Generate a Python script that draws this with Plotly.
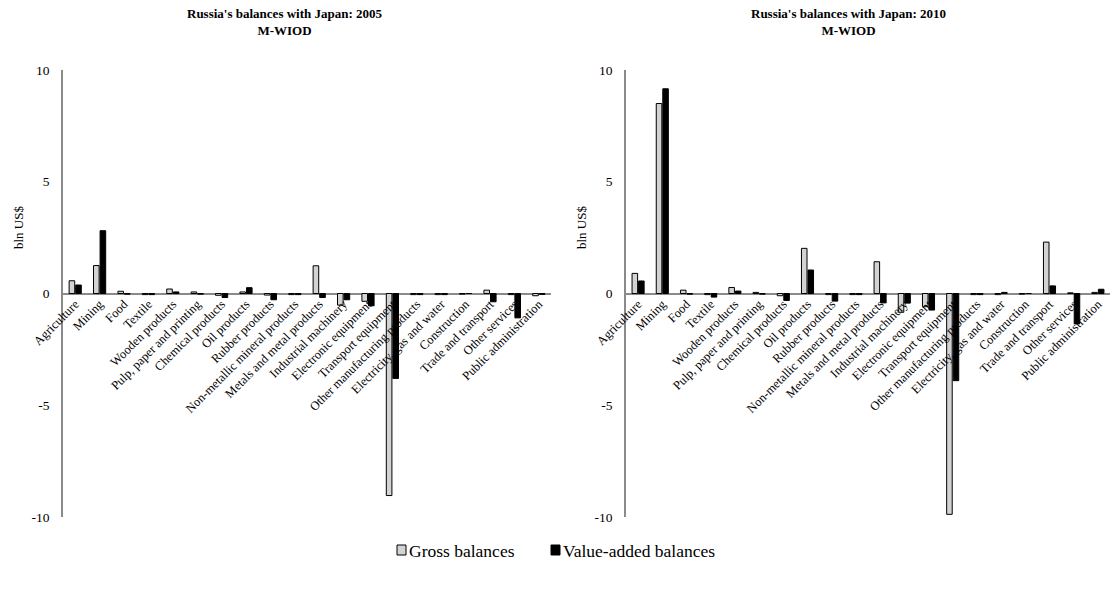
import plotly.graph_objects as go

# Sectors (same order in both years)
sectors = [
    "Agriculture", "Mining", "Food", "Textile", "Wooden products",
    "Pulp, paper and printing", "Chemical products", "Oil products",
    "Rubber products", "Non-metallic mineral products",
    "Metals and metal products", "Industrial machinery",
    "Electronic equipment", "Transport equipment",
    "Other manufacturing products", "Electricity, gas and water",
    "Construction", "Trade and transport", "Other services",
    "Public administration",
]

# Russia's balances with Japan, bln US$
gross_2005 = [0.57, 1.25, 0.10, -0.05, 0.20, 0.07, -0.08, 0.07, -0.07, -0.05,
              1.24, -0.52, -0.35, -9.04, -0.05, -0.05, -0.03, 0.15, -0.05, -0.10]
va_2005 = [0.38, 2.81, -0.03, -0.05, 0.07, -0.03, -0.18, 0.26, -0.28, -0.05,
           -0.18, -0.28, -0.55, -3.80, -0.05, -0.05, 0.00, -0.37, -1.09, -0.04]

gross_2010 = [0.90, 8.50, 0.15, -0.05, 0.27, 0.05, -0.10, 2.02, -0.05, -0.05,
              1.42, -0.84, -0.59, -9.88, -0.05, -0.05, -0.03, 2.30, 0.03, 0.05]
va_2010 = [0.56, 9.16, -0.03, -0.16, 0.11, -0.03, -0.31, 1.05, -0.34, -0.05,
           -0.42, -0.43, -0.74, -3.90, -0.05, 0.05, 0.00, 0.34, -1.36, 0.19]

series_names = ["Gross balances", "Value-added balances"]

y_ticks = [-10, -5, 0, 5, 10]
y_tick_text = ["-10", "-5", "0", "5", "10"]

SERIF = "Liberation Serif, Times New Roman, serif"
W, H = 1110, 592
AXIS_GRAY = "#8a8a8a"
GROSS_FILL = "#d3d3d3"
SERIES_FILL = [GROSS_FILL, "#000000"]

fig = go.Figure()

panels = [
    ("x", "y", "x3", gross_2005, va_2005),
    ("x2", "y2", "x4", gross_2010, va_2010),
]
for xa, ya, xlab, gross, va in panels:
    for name, vals, fill in zip(series_names, (gross, va), SERIES_FILL):
        fig.add_trace(go.Bar(
            x=sectors, y=vals, name=name, xaxis=xa, yaxis=ya,
            marker=dict(color=fill, line=dict(color="#000000", width=1)),
            showlegend=False,
        ))
    # empty carrier so the label axis knows the sector categories
    fig.add_trace(go.Bar(
        x=sectors, y=[0] * len(sectors), xaxis=xlab, yaxis=ya,
        marker=dict(opacity=0, line=dict(width=0)),
        showlegend=False, hoverinfo="skip",
    ))

y_top = 1 - 70 / H
y_bot = 1 - 517 / H
zero_pos = (y_top + y_bot) / 2

def x_axis(x0, x1):
    # zero line, drawn beneath the bars
    return dict(
        domain=[x0 / W, x1 / W], anchor="free", position=zero_pos,
        type="category", showline=True, linecolor=AXIS_GRAY, linewidth=1.5,
        ticks="", showticklabels=False, showgrid=False, zeroline=False,
        layer="below traces", automargin=False, fixedrange=True,
    )

def x_label_axis(x0, x1, base):
    # sector names, drawn on top of the bars
    return dict(
        domain=[x0 / W, x1 / W], anchor="free", position=zero_pos,
        overlaying=base, matches=base,
        type="category", showline=False, ticks="", tickangle=-45,
        showgrid=False, zeroline=False, layer="above traces",
        tickfont=dict(family=SERIF, size=12.5, color="#000000"),
        automargin=False, fixedrange=True,
    )

def y_axis(anchor):
    return dict(
        domain=[y_bot, y_top], range=[-10, 10], anchor=anchor,
        tickvals=y_ticks, ticktext=y_tick_text, ticks="",
        showline=True, linecolor=AXIS_GRAY, linewidth=1.5,
        showgrid=False, zeroline=False, ticklabelstandoff=9,
        tickfont=dict(family=SERIF, size=13.5, color="#000000"),
        automargin=False, fixedrange=True,
    )

fig.update_layout(
    width=W, height=H,
    margin=dict(l=0, r=0, t=0, b=0),
    paper_bgcolor="#ffffff", plot_bgcolor="#ffffff",
    barmode="group", bargap=0.46, bargroupgap=0.15,
    xaxis=x_axis(63, 551), yaxis=y_axis("x"),
    xaxis2=x_axis(626, 1110), yaxis2=y_axis("x2"),
    xaxis3=x_label_axis(63, 551, "x"),
    xaxis4=x_label_axis(626, 1110, "x2"),
    font=dict(family=SERIF, color="#000000"),
    showlegend=False,
)

# legend: key square followed closely by its label
legend_y = 550
legend_items = [(397, series_names[0], SERIES_FILL[0]),
                (551, series_names[1], SERIES_FILL[1])]
for kx, label, fill in legend_items:
    fig.add_shape(
        type="rect", xref="paper", yref="paper",
        x0=kx / W, x1=(kx + 9) / W,
        y0=1 - (legend_y + 5) / H, y1=1 - (legend_y - 5) / H,
        fillcolor=fill, line=dict(color="#000000", width=1),
    )
    fig.add_annotation(
        x=(kx + 10) / W, y=1 - (legend_y + 1) / H, xref="paper", yref="paper",
        xanchor="left", yanchor="middle", showarrow=False, text=label,
        font=dict(family=SERIF, size=17.5, color="#000000"),
    )

titles = [
    (285, "Russia's balances with Japan: 2005<br>M-WIOD"),
    (848, "Russia's balances with Japan: 2010<br>M-WIOD"),
]
for cx, txt in titles:
    fig.add_annotation(
        x=cx / W, y=1 - 4 / H, xref="paper", yref="paper",
        xanchor="center", yanchor="top", showarrow=False, align="center",
        text="<b>" + txt + "</b>",
        font=dict(family=SERIF, size=13, color="#000000"),
    )

for cx in (19, 582):
    fig.add_annotation(
        x=cx / W, y=1 - 228 / H, xref="paper", yref="paper",
        xanchor="center", yanchor="middle", showarrow=False,
        text="bln US$", textangle=-90,
        font=dict(family=SERIF, size=13, color="#000000"),
    )

fig.write_html("out.html")
